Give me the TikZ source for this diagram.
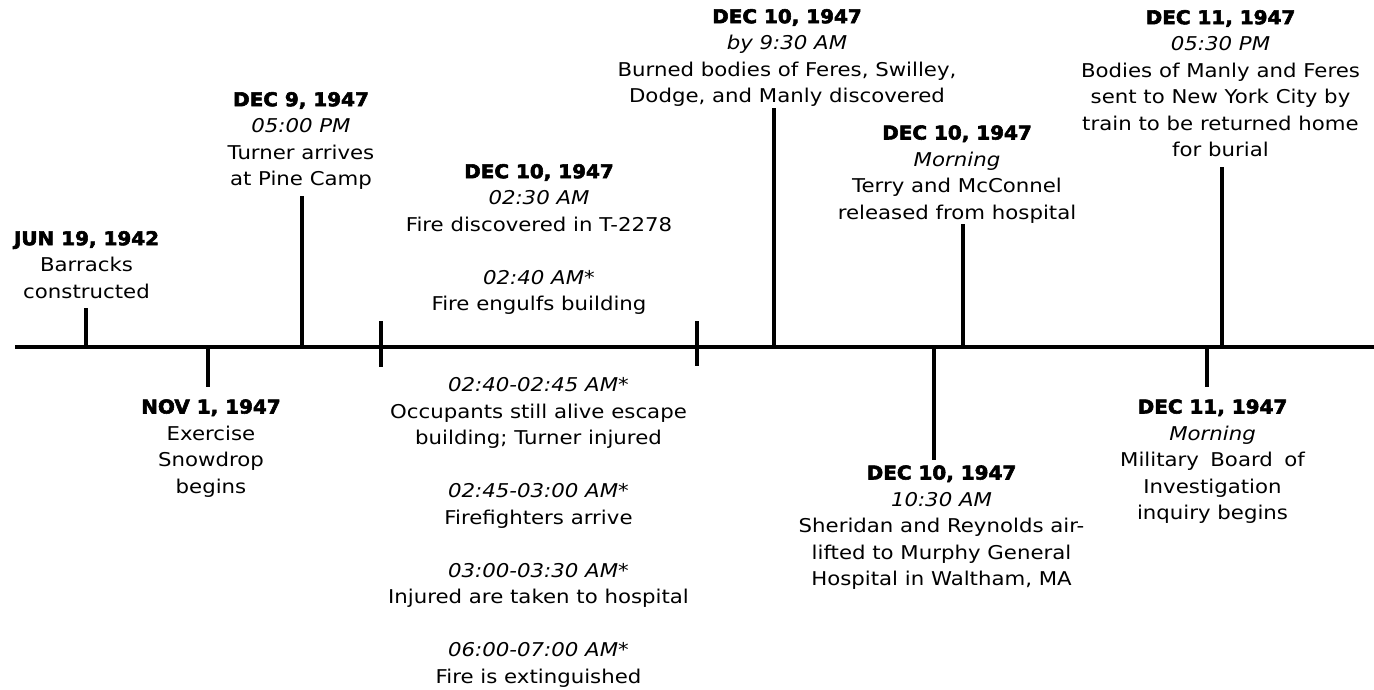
\documentclass[tikz,border=0pt]{standalone}
\usepackage{fontspec}
\setmainfont{DejaVu Sans}[FakeStretch=1.12]
\newfontfamily\datefont{DejaVu Sans}[FakeStretch=1.05, BoldFeatures={FakeBold=3}]
\newcommand\dt[1]{{\datefont\bfseries\rule{0pt}{16pt}#1}}
\newcommand\tm[1]{\textit{#1}}
\newcommand\blank{\\[26.5pt]}
\tikzset{
  lab/.style={anchor=north, inner sep=0pt, align=center, font=\fontsize{19}{26.5}\selectfont},
  axisline/.style={line width=4pt},
  tickline/.style={line width=4pt}
}
\begin{document}
\begin{tikzpicture}[x=1pt,y=-1pt]
\useasboundingbox (0,0) rectangle (1374,690);
% axis
\coordinate (a0) at (15,346.5);
\coordinate (a1) at (1374,346.5);
\draw[axisline] (a0) -- (a1);
% tick coordinates
\coordinate (t1b) at (86,346.5);    \coordinate (t1e) at (86,308);
\coordinate (t2b) at (208.3,346.5); \coordinate (t2e) at (208.3,386.7);
\coordinate (t3b) at (301.7,346.5); \coordinate (t3e) at (301.7,196);
\coordinate (t4b) at (380.7,321);   \coordinate (t4e) at (380.7,367);
\coordinate (t5b) at (697.3,321);   \coordinate (t5e) at (697.3,366);
\coordinate (t6b) at (774,346.5);   \coordinate (t6e) at (774,108.3);
\coordinate (t7b) at (934,346.5);   \coordinate (t7e) at (934,460);
\coordinate (t8b) at (963.3,346.5); \coordinate (t8e) at (963.3,224);
\coordinate (t9b) at (1206.7,346.5);\coordinate (t9e) at (1206.7,386.7);
\coordinate (t10b) at (1222.3,346.5);\coordinate (t10e) at (1222.3,166.7);
\foreach \i in {1,...,10} {\draw[tickline] (t\i b) -- (t\i e);}
% labels
\node[lab] (jun) at (86.5,229) {\dt{JUN 19, 1942}\\Barracks\\constructed};
\node[lab] (nov) at (211,397.3) {\dt{NOV 1, 1947}\\Exercise\\Snowdrop\\begins};
\node[lab] (dec9) at (301,90) {\dt{DEC 9, 1947}\\\tm{05:00 PM}\\Turner arrives\\at Pine Camp};
\node[lab] (fireup) at (539,162) {\dt{DEC 10, 1947}\\\tm{02:30 AM}\\Fire discovered in T-2278\blank\tm{02:40 AM*}\\Fire engulfs building};
\node[lab] (firedown) at (538.5,375.7) {\rule{0pt}{16pt}\tm{02:40-02:45 AM*}\\Occupants still alive escape\\building; Turner injured\blank
  \tm{02:45-03:00 AM*}\\Firefighters arrive\blank
  \tm{03:00-03:30 AM*}\\Injured are taken to hospital\blank
  \tm{06:00-07:00 AM*}\\Fire is extinguished};
\node[lab] (bodies) at (787,7) {\dt{DEC 10, 1947}\\\tm{by 9:30 AM}\\Burned bodies of Feres, Swilley,\\Dodge, and Manly discovered};
\node[lab] (terry) at (957,123.3) {\dt{DEC 10, 1947}\\\tm{Morning}\\Terry and McConnel\\released from hospital};
\node[lab] (sheridan) at (941.5,463.3) {\dt{DEC 10, 1947}\\\tm{10:30 AM}\\Sheridan and Reynolds air-\\lifted to Murphy General\\Hospital in Waltham, MA};
\node[lab] (sent) at (1220.5,8) {\dt{DEC 11, 1947}\\\tm{05:30 PM}\\Bodies of Manly and Feres\\sent to New York City by\\train to be returned home\\for burial};
\node[lab] (board) at (1212.5,397.3) {\dt{DEC 11, 1947}\\\tm{Morning}\\Military\hspace{0.6em}Board\hspace{0.6em}of\\Investigation\\inquiry begins};
\end{tikzpicture}
\end{document}
